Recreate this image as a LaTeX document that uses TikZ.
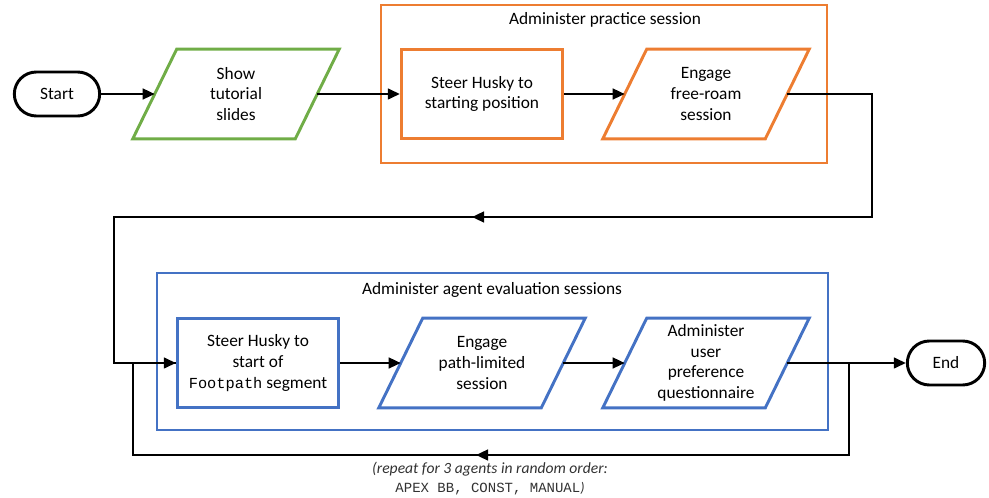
\documentclass[tikz,border=0pt]{standalone}
\usepackage{fontspec}
\setmainfont{Carlito}
\setmonofont{Liberation Mono}
\usepackage{xcolor}
\usepackage{tikz}
\usetikzlibrary{arrows.meta,positioning}
\definecolor{flowGreen}{RGB}{112,173,71}
\definecolor{flowOrange}{RGB}{237,125,49}
\definecolor{flowBlue}{RGB}{68,114,196}
\definecolor{flowGray}{RGB}{50,50,50}
\newcommand{\codeword}[1]{{\fontsize{11.5}{15.4}\selectfont\ttfamily #1}}

\begin{document}
\begin{tikzpicture}[x=0.75pt,y=-0.75pt,
    txt/.style={font=\fontsize{13}{15.5}\selectfont, align=center, inner sep=0pt},
    term/.style={txt, draw=black, line width=2.2pt, rounded corners=16.5pt,
        minimum width=64pt, minimum height=33pt},
    stepbox/.style={txt, draw, line width=2.2pt, minimum width=121pt, minimum height=66.5pt},
    slantbox/.style={txt, minimum width=121.5pt, minimum height=67pt},
    flow/.style={line width=1.7pt, -{Triangle[length=9pt,width=8pt]}},
    wire/.style={line width=1.7pt}]
    \useasboundingbox (0,0) rectangle (989,498);

    % group frames
    \draw[flowOrange, line width=2.2pt] (381,5) rectangle (827,163);
    \node[txt] (practice) at (605,20) {Administer practice session};
    \draw[flowBlue, line width=2.2pt] (157,273) rectangle (828,430);
    \node[txt] (evaluation) at (492,290) {Administer agent evaluation sessions};

    % top row
    \node[term] (start) at (57,94) {Start};
    \node[slantbox] (slides) at (236,94) {Show\\tutorial\\slides};
    \node[stepbox, draw=flowOrange] (steerA) at (482,94) {Steer Husky to\\starting position};
    \node[slantbox] (freeroam) at (706,94) {Engage\\free-roam\\session};

    % bottom row
    \node[stepbox, draw=flowBlue] (steerB) at (258,363) {Steer Husky to\\start of\\\codeword{Footpath} segment};
    \node[slantbox] (pathlim) at (482,363) {Engage\\path-limited\\session};
    \node[slantbox] (quest) at (706,363) {Administer\\user\\preference\\questionnaire};
    \node[term, minimum width=58pt] (end) at (946,363) {End};

    % parallelogram outlines
    \foreach \n/\c in {slides/flowGreen, freeroam/flowOrange, pathlim/flowBlue, quest/flowBlue}
        \draw[\c, line width=2.2pt] ([xshift=16.5pt]\n.north west) -- ([xshift=16.5pt]\n.north east)
            -- ([xshift=-16.5pt]\n.south east) -- ([xshift=-16.5pt]\n.south west) -- cycle;

    % connectors
    \draw[flow] (start) -- (slides);
    \draw[flow] (slides) -- (steerA);
    \draw[flow] (steerA) -- (freeroam);
    \draw[flow] (steerB) -- (pathlim);
    \draw[flow] (pathlim) -- (quest);
    \draw[flow] (quest) -- (end);

    % hand-over from practice to evaluation
    \coordinate (turnA) at (872,217);
    \coordinate (turnB) at (114,217);
    \coordinate (midA) at (472,217);
    \draw[wire] (freeroam.east) -| (turnA) -- (turnB) |- (steerB.west);
    \draw[flow] (turnA) -- (midA);
    \draw[flow] (turnB |- steerB.west) -- (steerB.west);

    % repeat loop
    \coordinate (split) at (849,363);
    \coordinate (loopR) at (849,455);
    \coordinate (loopL) at (133,455);
    \coordinate (join) at (133,363);
    \coordinate (midB) at (476,455);
    \draw[wire] (split) -- (loopR) -- (loopL) -- (join);
    \draw[flow] (loopR) -- (midB);

    \node[text=flowGray, font=\fontsize{11.7}{13}\selectfont\itshape, inner sep=0pt] (repeat) at (490,469)
        {(repeat for 3 agents in random order:};
    \node[text=flowGray, font=\fontsize{10.5}{13}\selectfont, inner sep=0pt] (agents) at (490,489)
        {\texttt{APEX BB, CONST, MANUAL}\textit{)}};
\end{tikzpicture}
\end{document}
